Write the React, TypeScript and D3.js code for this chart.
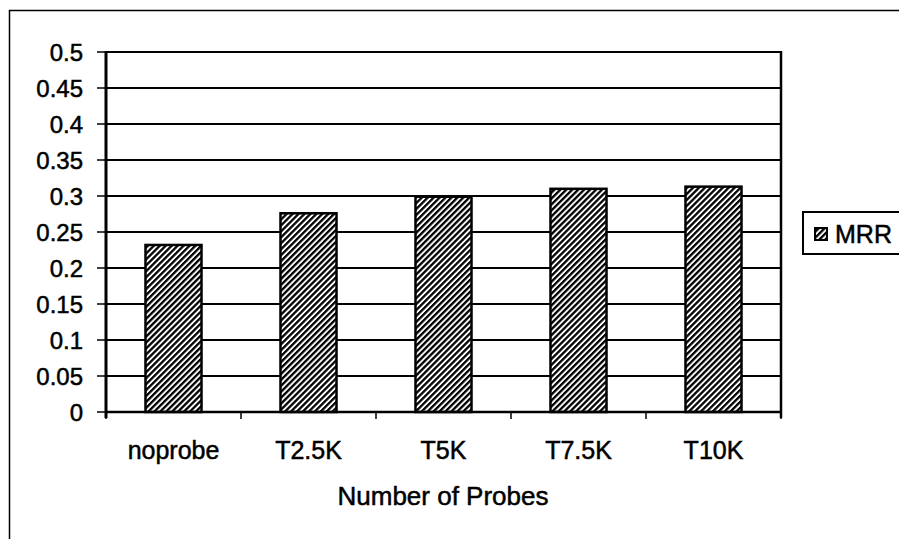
import React, { useRef, useEffect } from "react";
import * as d3 from "d3";

// chart data
const categories = ["noprobe", "T2.5K", "T5K", "T7.5K", "T10K"];
const mrrValues = [0.232, 0.276, 0.299, 0.31, 0.313];
const yTicks = [0, 0.05, 0.1, 0.15, 0.2, 0.25, 0.3, 0.35, 0.4, 0.45, 0.5];
const yTickLabels = ["0", "0.05", "0.1", "0.15", "0.2", "0.25", "0.3", "0.35", "0.4", "0.45", "0.5"];
const seriesName = "MRR";
const xTitle = "Number of Probes";

const FONT = "'Liberation Sans', Arial, sans-serif";

const App = () => {
    const svgRef = useRef<SVGSVGElement>(null);

    useEffect(() => {
        const svg = d3.select(svgRef.current);
        svg.selectAll("*").remove();

        const width = 899;
        const height = 539;
        const plot = { left: 106, top: 52, right: 781, bottom: 412 };

        svg.attr("width", width).attr("height", height);

        // hatch pattern for bars
        const defs = svg.append("defs");
        const pat = defs
            .append("pattern")
            .attr("id", "hatch")
            .attr("patternUnits", "userSpaceOnUse")
            .attr("width", 4.2)
            .attr("height", 4.2)
            .attr("patternTransform", "rotate(45)");
        pat.append("rect").attr("width", 4.2).attr("height", 4.2).attr("fill", "white");
        pat.append("rect").attr("width", 2.3).attr("height", 4.2).attr("fill", "black");

        // outer frame
        svg.append("rect")
            .attr("x", 9.5)
            .attr("y", 10.5)
            .attr("width", 920)
            .attr("height", 560)
            .attr("fill", "white")
            .attr("stroke", "black")
            .attr("stroke-width", 1.5);

        const x = d3
            .scaleBand()
            .domain(categories)
            .range([plot.left, plot.right])
            .paddingInner(0.585)
            .paddingOuter(0.2925);

        const xCat = d3.scaleBand().domain(categories).range([plot.left, plot.right]);

        const y = d3.scaleLinear().domain([0, 0.5]).range([plot.bottom, plot.top]);

        // gridlines
        svg.append("g")
            .selectAll("line")
            .data(yTicks)
            .enter()
            .append("line")
            .attr("x1", plot.left)
            .attr("x2", plot.right)
            .attr("y1", d => y(d))
            .attr("y2", d => y(d))
            .attr("stroke", "black")
            .attr("stroke-width", 2);

        // plot border right
        svg.append("line")
            .attr("x1", plot.right)
            .attr("x2", plot.right)
            .attr("y1", plot.top - 1)
            .attr("y2", plot.bottom + 6)
            .attr("stroke", "black")
            .attr("stroke-width", 2.5);

        // bars
        svg.append("g")
            .selectAll("rect")
            .data(mrrValues)
            .enter()
            .append("rect")
            .attr("x", (d, i) => x(categories[i]))
            .attr("y", d => y(d))
            .attr("width", x.bandwidth())
            .attr("height", d => plot.bottom - y(d))
            .attr("fill", "url(#hatch)")
            .attr("stroke", "black")
            .attr("stroke-width", 2.5);

        // y axis
        svg.append("line")
            .attr("x1", plot.left)
            .attr("x2", plot.left)
            .attr("y1", plot.top - 1)
            .attr("y2", plot.bottom + 6)
            .attr("stroke", "black")
            .attr("stroke-width", 3);

        const textStyle = (sel, size) =>
            sel
                .style("font-family", FONT)
                .style("font-size", size)
                .style("fill", "black")
                .style("stroke", "black")
                .style("stroke-width", "0.5px");

        const yAxis = svg.append("g");
        yAxis.selectAll("line")
            .data(yTicks)
            .enter()
            .append("line")
            .attr("x1", plot.left - 9)
            .attr("x2", plot.left)
            .attr("y1", d => y(d))
            .attr("y2", d => y(d))
            .attr("stroke", "black")
            .attr("stroke-width", 1.5);
        textStyle(
            yAxis.selectAll("text")
                .data(yTicks)
                .enter()
                .append("text")
                .attr("x", 83)
                .attr("y", d => y(d))
                .attr("dy", "0.36em")
                .attr("text-anchor", "end")
                .text((d, i) => yTickLabels[i]),
            "24px"
        );

        // x axis
        svg.append("line")
            .attr("x1", plot.left)
            .attr("x2", plot.right)
            .attr("y1", plot.bottom)
            .attr("y2", plot.bottom)
            .attr("stroke", "black")
            .attr("stroke-width", 2.5);

        const xTickPos = categories.map(c => xCat(c) as number).concat([plot.right]);
        svg.append("g")
            .selectAll("line")
            .data(xTickPos)
            .enter()
            .append("line")
            .attr("x1", d => d)
            .attr("x2", d => d)
            .attr("y1", plot.bottom)
            .attr("y2", plot.bottom + 7)
            .attr("stroke", "black")
            .attr("stroke-width", 1.5);

        textStyle(
            svg.append("g")
                .selectAll("text")
                .data(categories)
                .enter()
                .append("text")
                .attr("x", d => (xCat(d) as number) + xCat.bandwidth() / 2)
                .attr("y", 459)
                .attr("text-anchor", "middle")
                .text(d => d),
            "25px"
        );

        textStyle(
            svg.append("text")
                .attr("x", 443)
                .attr("y", 505)
                .attr("text-anchor", "middle")
                .text(xTitle),
            "26px"
        );

        // legend
        const legend = svg.append("g");
        legend.append("rect")
            .attr("x", 803)
            .attr("y", 212)
            .attr("width", 120)
            .attr("height", 42)
            .attr("fill", "white")
            .attr("stroke", "black")
            .attr("stroke-width", 2);
        legend.append("rect")
            .attr("x", 815)
            .attr("y", 228)
            .attr("width", 12)
            .attr("height", 12)
            .attr("fill", "url(#hatch)")
            .attr("stroke", "black")
            .attr("stroke-width", 2);
        textStyle(
            legend.append("text")
                .attr("x", 835)
                .attr("y", 243)
                .text(seriesName),
            "25px"
        );
    }, []);

    return (
        <div style={{ position: "absolute", left: 0, top: 0 }}>
            <svg ref={svgRef} style={{ display: "block" }}></svg>
        </div>
    );
};

export default App;
